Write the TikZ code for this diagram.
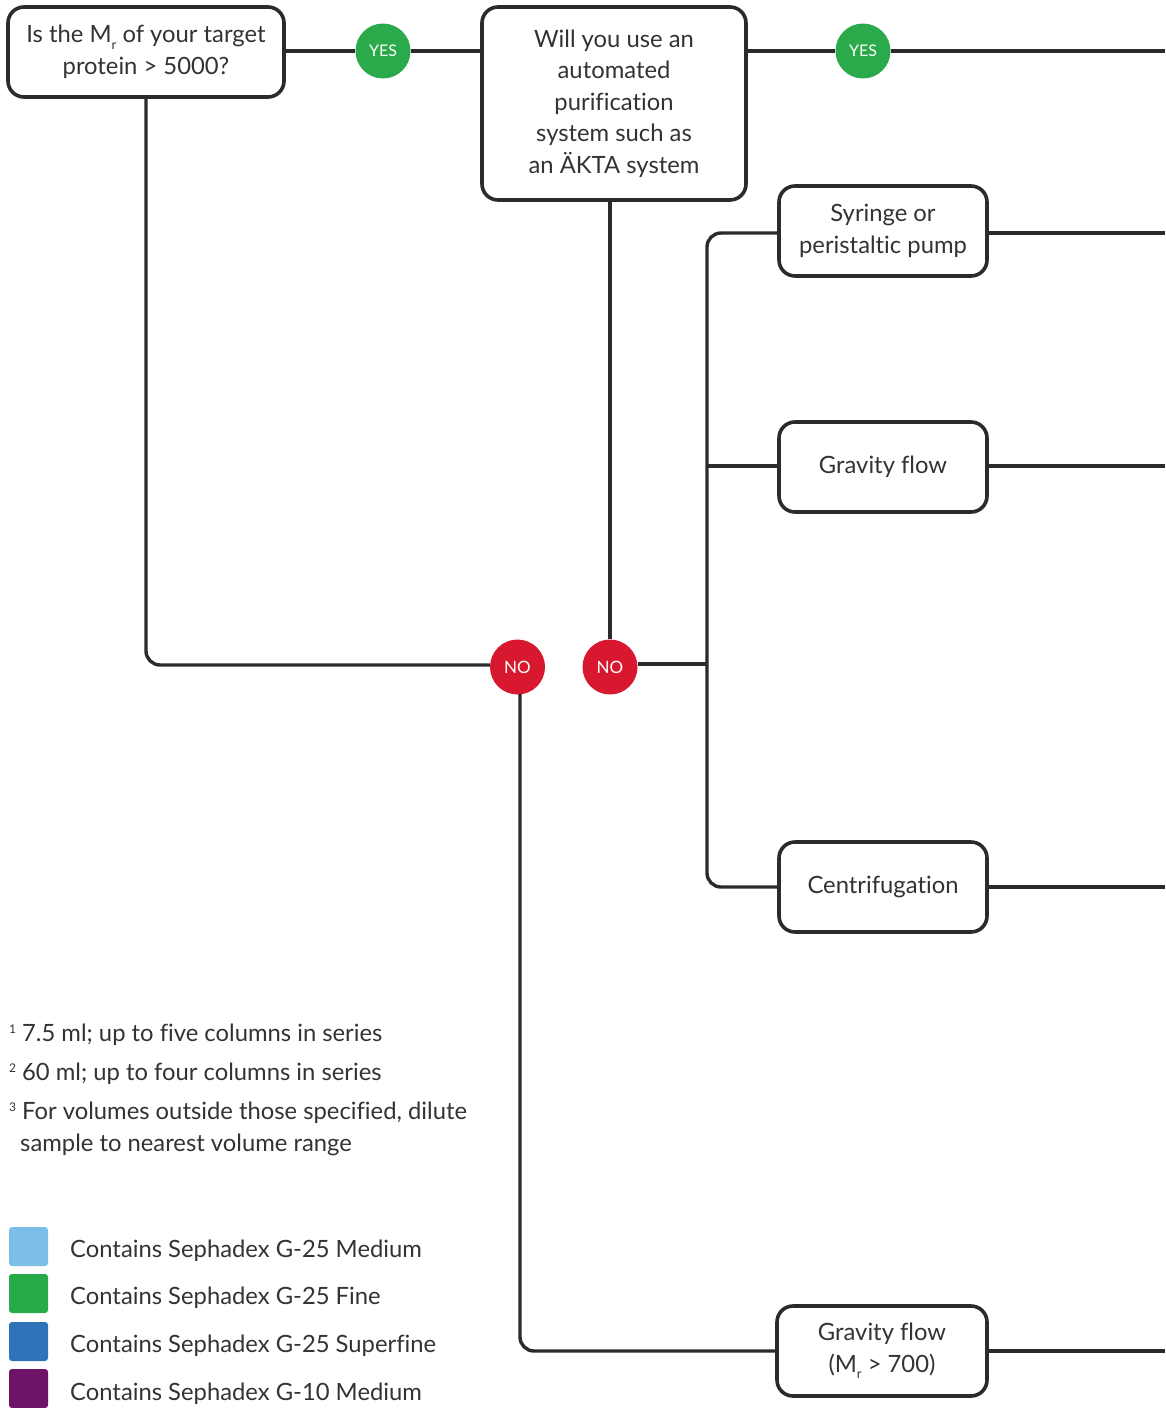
\documentclass[tikz,border=0pt]{standalone}
\usepackage{fontspec}
\setmainfont{Lato}[Ligatures=NoCommon]
\begin{document}
\definecolor{ink}{HTML}{2B2B2B}
\definecolor{txt}{HTML}{333333}
\definecolor{yesgreen}{HTML}{2AAA4A}
\definecolor{nored}{HTML}{D7182F}
\definecolor{medblue}{HTML}{7BBFE8}
\definecolor{finegreen}{HTML}{27AA4A}
\definecolor{supblue}{HTML}{2E73BA}
\definecolor{gpurple}{HTML}{6E1368}
\newcommand{\Mr}{M\raisebox{-0.55ex}{\fontsize{13}{13}\selectfont r}}
\begin{tikzpicture}[x=1pt,y=-1pt,
  every node/.style={text=txt, font=\fontsize{23.8}{31.5}\selectfont},
  qbox/.style={draw=ink, line width=3.6pt, rounded corners=16pt, fill=white,
    align=center, inner sep=0pt},
  yesdot/.style={circle, fill=yesgreen, minimum size=55pt, inner sep=0pt,
    text=white, font=\fontsize{16}{16}\selectfont},
  nodot/.style={circle, fill=nored, minimum size=55pt, inner sep=0pt,
    text=white, font=\fontsize{17}{17}\selectfont},
  wire/.style={draw=ink, line width=3.4pt, rounded corners=14pt},
  swatch/.style={rounded corners=3pt, minimum size=39pt, inner sep=0pt},
  legtext/.style={anchor=west, inner sep=0pt},
  note/.style={anchor=west, inner sep=0pt, align=left}]
\useasboundingbox (0,0) rectangle (1165,1408);

% decision boxes
\node[qbox, minimum width=276pt, minimum height=90pt] (mr) at (146,52)
  {Is the \Mr{} of your target\\protein > 5000?};
\node[qbox, minimum width=264pt, minimum height=193pt] (akta) at (614,103.5)
  {Will you use an\\automated\\purification\\system such as\\an ÄKTA system};

% method boxes
\node[qbox, minimum width=208pt, minimum height=90pt] (pump) at (883,231)
  {Syringe or\\peristaltic pump};
\node[qbox, minimum width=208pt, minimum height=90pt] (grav) at (883,467)
  {Gravity flow};
\node[qbox, minimum width=208pt, minimum height=90pt] (cent) at (883,887)
  {Centrifugation};
\node[qbox, minimum width=210pt, minimum height=90pt] (grav7) at (882,1351)
  {Gravity flow\\(\Mr{} > 700)};

% answer dots
\node[yesdot] (yes1) at (383,51) {YES};
\node[yesdot] (yes2) at (863,51) {YES};
\node[nodot] (no1) at (517.5,667) {NO};
\node[nodot] (no2) at (610,667) {NO};

% free ends at the right edge
\coordinate (e0) at (1165,51);
\coordinate (e1) at (1165,233);
\coordinate (e2) at (1165,466);
\coordinate (e3) at (1165,887);
\coordinate (e4) at (1165,1351);
\coordinate (split) at (707,664);

% connectors
\draw[wire] (mr.east |- yes1) -- (yes1);
\draw[wire] (yes1) -- (akta.west |- yes1);
\draw[wire] (akta.east |- yes2) -- (yes2);
\draw[wire] (yes2) -- (e0);
\draw[wire] (mr.south) -- (146,665) -- (no1.west |- 0,665);
\draw[wire] (akta.south -| no2) -- (no2.north);
\draw[wire] (no2.east |- split) -- (split);
\draw[wire] (pump.west |- 0,233) -- (707,233) -- (707,887) -- (cent.west |- 0,887);
\draw[wire] (707,466) -- (grav.west |- 0,466);
\draw[wire] (520,694) -- (520,1351) -- (grav7.west |- 0,1351);
\draw[wire] (pump.east |- e1) -- (e1);
\draw[wire] (grav.east |- e2) -- (e2);
\draw[wire] (cent.east |- e3) -- (e3);
\draw[wire] (grav7.east |- e4) -- (e4);

% footnotes
\node[note] (f1) at (9,1035) {\raisebox{0.7ex}{\fontsize{12}{12}\selectfont 1}\hspace{6pt}7.5 ml; up to five columns in series};
\node[note] (f2) at (9,1074) {\raisebox{0.7ex}{\fontsize{12}{12}\selectfont 2}\hspace{6pt}60 ml; up to four columns in series};
\node[note] (f3) at (9,1129) {\raisebox{0.7ex}{\fontsize{12}{12}\selectfont 3}\hspace{6pt}For volumes outside those specified, dilute\\\hspace{11pt}sample to nearest volume range};

% legend
\node[swatch, fill=medblue] (s1) at (28.5,1246.5) {};
\node[swatch, fill=finegreen] (s2) at (28.5,1293.5) {};
\node[swatch, fill=supblue] (s3) at (28.5,1341.5) {};
\node[swatch, fill=gpurple] (s4) at (28.5,1388.5) {};
\node[legtext] (l1) at (70,1251) {Contains Sephadex G-25 Medium};
\node[legtext] (l2) at (70,1298) {Contains Sephadex G-25 Fine};
\node[legtext] (l3) at (70,1346) {Contains Sephadex G-25 Superfine};
\node[legtext] (l4) at (70,1394) {Contains Sephadex G-10 Medium};
\end{tikzpicture}
\end{document}
